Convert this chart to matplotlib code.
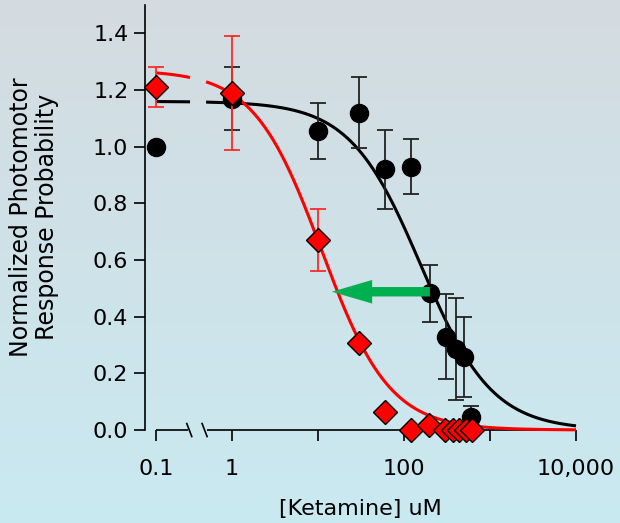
import numpy as np
import matplotlib
matplotlib.use("Agg")
import matplotlib.pyplot as plt
import matplotlib.transforms as mtransforms

# ---------------- data ----------------
# black circles (control)
ctrl_conc = [0.1, 1, 10, 30, 60, 120, 200, 310, 400, 500, 600]
ctrl_resp = [1.00, 1.17, 1.055, 1.12, 0.92, 0.93, 0.483, 0.33, 0.286, 0.258, 0.046]
ctrl_err  = [0.0, 0.11, 0.10, 0.125, 0.14, 0.096, 0.10, 0.15, 0.18, 0.14, 0.04]

# red diamonds
ket_conc = [0.1, 1, 10, 30, 60, 120, 195, 300, 370, 440, 520, 620]
ket_resp = [1.21, 1.19, 0.67, 0.307, 0.063, 0.0, 0.018, 0.0, 0.0, 0.0, 0.0, 0.0]
ket_err  = [0.07, 0.20, 0.11, 0.0, 0.0, 0.0, 0.0, 0.0, 0.0, 0.0, 0.0, 0.0]

# Hill fit parameters: top, IC50, slope
ctrl_fit = (1.16, 158.0, 1.05)
ket_fit = (1.27, 11.0, 1.1)

# shift arrow (from / to concentration, response level)
arrow_from = 200
arrow_to = 14.5
arrow_level = 0.488

x_tick_values = [0.1, 1, 10, 100, 1000, 10000]
x_tick_labels = ["0.1", "1", "", "100", "", "10,000"]
y_tick_values = [0.0, 0.2, 0.4, 0.6, 0.8, 1.0, 1.2, 1.4]

# ---------------- layout ----------------
BREAK_POS = 0.1306      # where 0.1 sits on the broken log axis
GAP = (0.325, 0.50)     # axis / curve break region


def disp(x):
    x = np.asarray(x, dtype=float)
    return np.where(x <= 0.1, BREAK_POS, x)


def hill(x, top, ic50, n):
    return top / (1.0 + (x / ic50) ** n)


plt.rcParams['font.family'] = ['DejaVu Sans']
fig = plt.figure(figsize=(6.2, 5.23), dpi=100)

# background gradient
bg = fig.add_axes([0, 0, 1, 1], zorder=-10)
top_c = np.array([0.83, 0.86, 0.88])
bot_c = np.array([0.79, 0.915, 0.945])
t = np.linspace(0, 1, 256)[:, None]
grad = top_c[None, :] * (1 - t) + bot_c[None, :] * t
bg.imshow(grad[:, None, :].repeat(4, axis=1), aspect='auto', extent=[0, 1, 0, 1])
bg.axis('off')

ax = fig.add_axes([145 / 620, 1 - 444.2 / 523, (576.5 - 145) / 620, (444.2 - 5) / 523])
ax.patch.set_alpha(0)
ax.set_xscale('log')
ax.set_xlim(10 ** ((145 - 232) / 86), 10 ** ((576.5 - 232) / 86))
ax.set_ylim(-0.05, 1.5)

# fitted curves (two segments because of the axis break)
for (top, ic, n), col, z in [(ket_fit, '#ff0000', 3), (ctrl_fit, 'black', 2)]:
    for lo, hi in [(BREAK_POS, GAP[0]), (GAP[1], 10000)]:
        xs = np.logspace(np.log10(lo), np.log10(hi), 300)
        ax.plot(xs, hill(xs, top, ic, n), color=col, lw=2.2, zorder=z,
                solid_capstyle='butt')

# control points
ce = np.array(ctrl_err)
ax.errorbar(disp(ctrl_conc), ctrl_resp, yerr=np.where(ce > 0, ce, np.nan),
            fmt='o', color='black', ms=13, ecolor='#222222', elinewidth=1.3,
            capsize=5.5, capthick=1.3, zorder=4, clip_on=False)

# ketamine points
ke = np.array(ket_err)
ax.errorbar(disp(ket_conc), ket_resp, yerr=np.where(ke > 0, ke, np.nan),
            fmt='none', ecolor='#ff2a2a', elinewidth=1.3, capsize=5.5,
            capthick=1.3, zorder=5, clip_on=False)
ax.plot(disp(ket_conc), ket_resp, 'D', color='#ff0000', mec='black', mew=1.0,
        ms=12, zorder=6, clip_on=False)

# shift arrow
ax.annotate('', xy=(arrow_to, arrow_level), xytext=(arrow_from, arrow_level),
            arrowprops=dict(arrowstyle='simple,head_length=2.9,head_width=1.7,tail_width=0.68',
                            mutation_scale=10, facecolor='#00b050', edgecolor='none',
                            lw=0, shrinkA=0, shrinkB=0),
            zorder=7)

# axes styling
for s in ['top', 'right']:
    ax.spines[s].set_visible(False)
ax.spines['left'].set_bounds(0, 1.5)
ax.spines['left'].set_linewidth(1.2)
ax.spines['bottom'].set_position(('data', 0))
ax.spines['bottom'].set_color('none')

ax.plot([BREAK_POS, GAP[0] * 0.96], [0, 0], color='black', lw=1.2, clip_on=False,
        solid_capstyle='butt')
ax.plot([GAP[1] * 1.02, 10000], [0, 0], color='black', lw=1.2, clip_on=False,
        solid_capstyle='butt')
# break slashes (pixel offsets)
inv = fig.transFigure.inverted()
for xc in [GAP[0] * 0.98, GAP[1] * 0.96]:
    px, py = ax.transData.transform((xc, 0))
    p1 = inv.transform((px - 2.5, py + 6.5))
    p2 = inv.transform((px + 2.5, py - 6.5))
    fig.add_artist(plt.Line2D([p1[0], p2[0]], [p1[1], p2[1]], color='black', lw=1.2))

ax.set_xticks(disp(x_tick_values))
ax.set_xticklabels(x_tick_labels)
ax.xaxis.set_minor_locator(matplotlib.ticker.NullLocator())
ax.set_yticks(y_tick_values)
ax.set_yticklabels([f"{v:.1f}" for v in y_tick_values])
ax.tick_params(axis='x', direction='out', length=8, width=1.2, pad=13,
               labelsize=16, colors='black')
ax.tick_params(axis='y', direction='out', length=8, width=1.2, pad=4,
               labelsize=16, colors='black')

ax.set_xlabel('[Ketamine] uM', fontsize=16, labelpad=14)
fig.text(34 / 620, 1 - 217 / 523, 'Normalized Photomotor\nResponse Probability',
         rotation=90, ha='center', va='center', fontsize=17, linespacing=1.1,
         multialignment='center')

fig.savefig('out.png', dpi=100)
